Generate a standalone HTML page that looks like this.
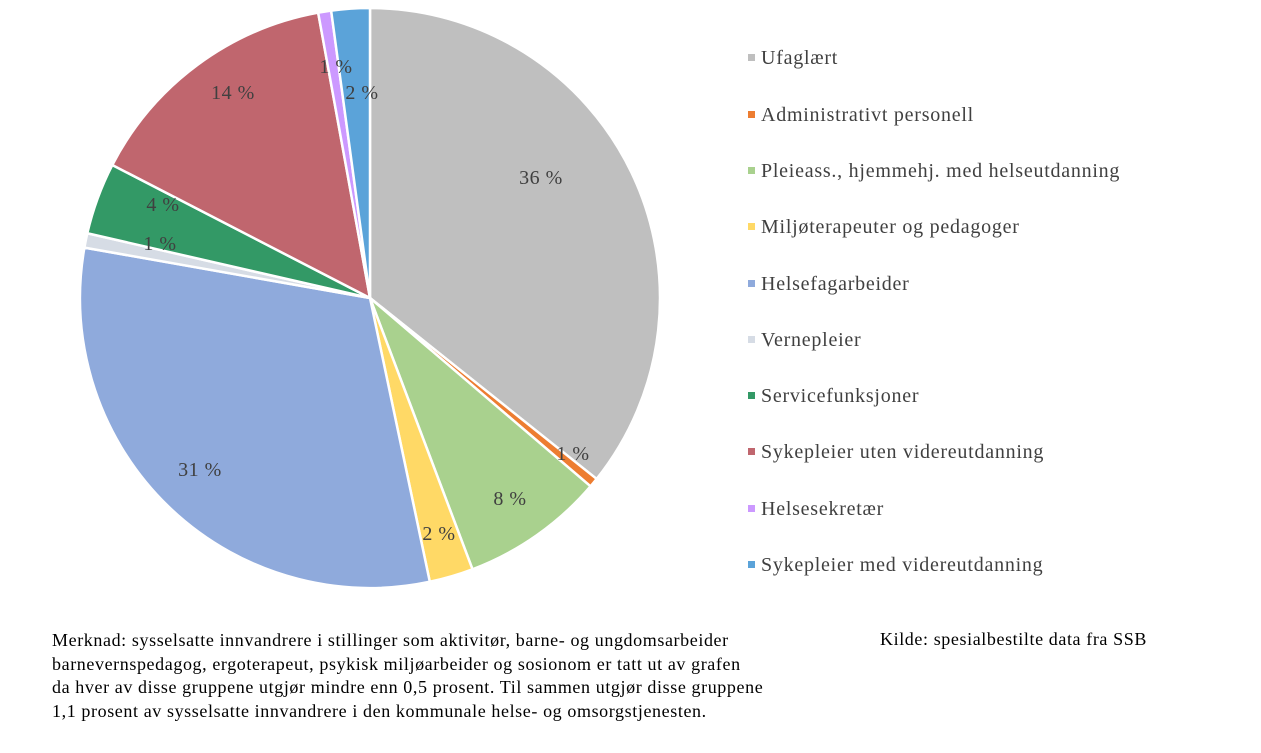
<!DOCTYPE html>
<html><head><meta charset="utf-8">
<style>
body{margin:0;width:1261px;height:753px;background:#fff;overflow:hidden;position:relative;font-family:"Liberation Serif",serif;}
.leg{position:absolute;left:748px;font-size:20px;letter-spacing:0.75px;color:#404040;white-space:nowrap}
.leg span{display:inline-block;width:7px;height:7px;margin-right:6px;vertical-align:middle;position:relative;top:-2px}
.note{position:absolute;left:52px;top:629px;font-size:18px;letter-spacing:0.6px;line-height:23.5px;color:#000;white-space:nowrap}
.src{position:absolute;left:880px;top:629px;font-size:18px;letter-spacing:0.6px;color:#000;}
</style></head><body>
<svg id="pie" width="760" height="600" style="position:absolute;left:0;top:0"></svg>
<div class="leg" style="top:47px"><span style="background:#bfbfbf"></span>Ufaglært</div>
<div class="leg" style="top:104px"><span style="background:#ed7d31"></span>Administrativt personell</div>
<div class="leg" style="top:160px"><span style="background:#a9d18e"></span>Pleieass., hjemmehj. med helseutdanning</div>
<div class="leg" style="top:216px"><span style="background:#ffd966"></span>Miljøterapeuter og pedagoger</div>
<div class="leg" style="top:273px"><span style="background:#8faadc"></span>Helsefagarbeider</div>
<div class="leg" style="top:329px"><span style="background:#d6dce5"></span>Vernepleier</div>
<div class="leg" style="top:385px"><span style="background:#339966"></span>Servicefunksjoner</div>
<div class="leg" style="top:441px"><span style="background:#c0666e"></span>Sykepleier uten videreutdanning</div>
<div class="leg" style="top:498px"><span style="background:#cc99ff"></span>Helsesekretær</div>
<div class="leg" style="top:554px"><span style="background:#5ba3d9"></span>Sykepleier med videreutdanning</div>
<div class="note">Merknad: sysselsatte innvandrere i stillinger som aktivitør, barne- og ungdomsarbeider<br>barnevernspedagog, ergoterapeut, psykisk miljøarbeider og sosionom er tatt ut av grafen<br>da hver av disse gruppene utgjør mindre enn 0,5 prosent. Til sammen utgjør disse gruppene<br>1,1 prosent av sysselsatte innvandrere i den kommunale helse- og omsorgstjenesten.</div>
<div class="src">Kilde: spesialbestilte data fra SSB</div>
<script>
var cx=370,cy=298,r=290;
var s=[[128.6,'#bfbfbf','36 %',541,178],[130.5,'#ed7d31','1 %',573,454],[159.3,'#a9d18e','8 %',510,499],[168.1,'#ffd966','2 %',439,534],[280,'#8faadc','31 %',200,470],[282.9,'#d6dce5','1 %',160,244],[297.3,'#339966','4 %',163,205],[349.7,'#c0666e','14 %',233,93],[352.3,'#cc99ff','1 %',336,67],[360,'#5ba3d9','2 %',362,93]];
function pt(a){a=a*Math.PI/180;return [cx+r*Math.sin(a),cy-r*Math.cos(a)];}
var h='',prev=0;
s.forEach(function(d){var p0=pt(prev),p1=pt(d[0]);var lg=(d[0]-prev)>180?1:0;
h+='<path d="M'+cx+','+cy+'L'+p0[0]+','+p0[1]+'A'+r+','+r+' 0 '+lg+' 1 '+p1[0]+','+p1[1]+'Z" fill="'+d[1]+'" stroke="#fff" stroke-width="2.5" stroke-linejoin="round"/>';prev=d[0];});
s.forEach(function(d){h+='<text x="'+d[3]+'" y="'+(d[4]+6)+'" text-anchor="middle" font-family="Liberation Serif,serif" font-size="20" letter-spacing="0.5" fill="#404040">'+d[2]+'</text>';});
document.getElementById('pie').innerHTML=h;
</script>
</body></html>
